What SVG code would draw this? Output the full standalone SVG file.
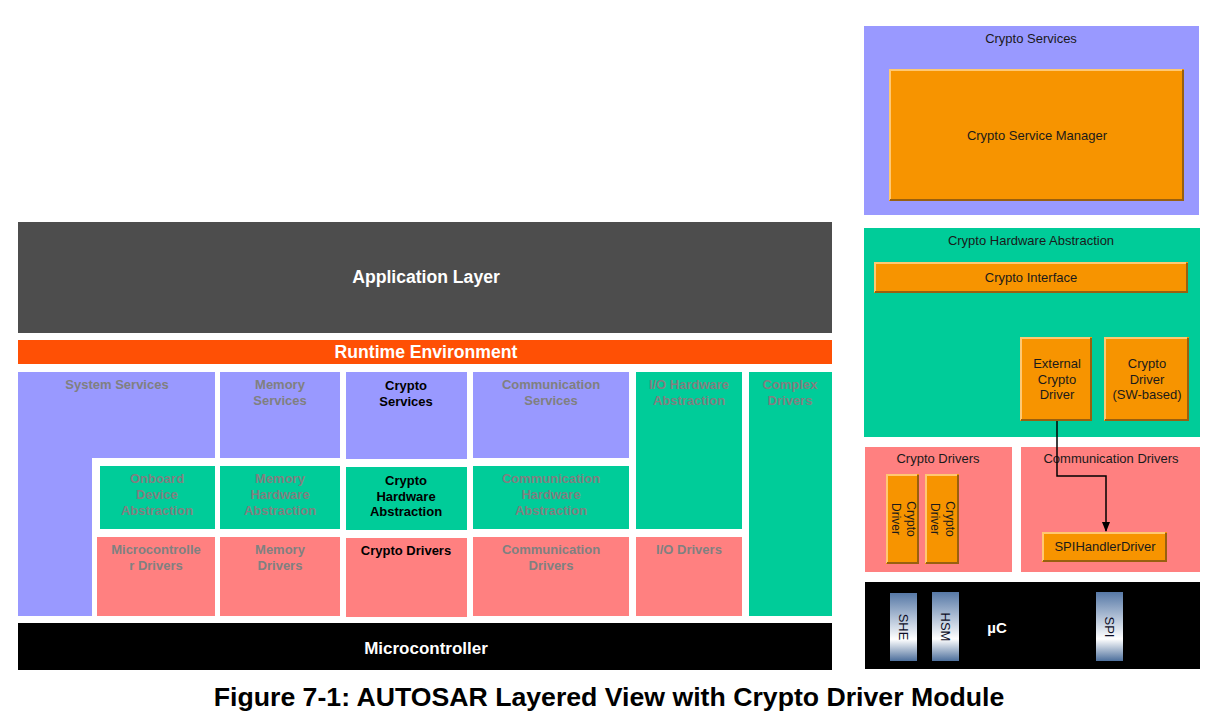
<svg xmlns="http://www.w3.org/2000/svg" width="1219" height="728" viewBox="0 0 1219 728">
<style>
.lav{fill:#9999ff}
.grn{fill:#00cc99}
.pnk{fill:#ff8080}
.blk{fill:#000}
.gt{font-family:"Liberation Sans",Arial,sans-serif;font-size:13px;font-weight:bold;fill:#808080;text-anchor:middle}
.bt{font-family:"Liberation Sans",Arial,sans-serif;font-size:13px;font-weight:bold;fill:#000;text-anchor:middle}
.wt{font-family:"Liberation Sans",Arial,sans-serif;font-weight:bold;fill:#fff;text-anchor:middle}
.nt{font-family:"Liberation Sans",Arial,sans-serif;font-size:13px;fill:#1a1a1a;text-anchor:middle}
.rt{font-family:"Liberation Sans",Arial,sans-serif;font-size:12px;fill:#1a1a1a;text-anchor:middle}
.ob{fill:#f79400}
.hl{fill:none;stroke:#ffc872;stroke-width:2}
.sh{fill:none;stroke:#99600f;stroke-width:2}
.chip{fill:url(#chipg)}
.ct{font-family:"Liberation Sans",Arial,sans-serif;font-size:13px;fill:#0d0d26;text-anchor:middle}
.conn{fill:none;stroke:#000;stroke-width:1.5}
</style>
<defs>
<linearGradient id="chipg" x1="0" y1="0" x2="0" y2="1">
<stop offset="0" stop-color="#5678a6"/>
<stop offset="0.68" stop-color="#ffffff"/>
<stop offset="1" stop-color="#4d6f9c"/>
</linearGradient>
<marker id="arr" markerWidth="10" markerHeight="10" refX="9" refY="5" orient="auto" markerUnits="userSpaceOnUse">
<path d="M0,1 L10,5 L0,9 Z" fill="#000"/>
</marker>
</defs>
<rect width="1219" height="728" fill="#fff"/>

<g id="application-layer">
<rect x="18" y="222" width="814" height="111" fill="#4d4d4d"/>
<text class="wt" x="426" y="283" font-size="17.6">Application Layer</text>
</g>
<g id="runtime-environment">
<rect x="18" y="340" width="814" height="24" fill="#ff5005"/>
<text class="wt" x="426" y="358" font-size="17.6">Runtime Environment</text>
</g>

<g id="system-services">
<path class="lav" d="M18 372 H215 V458 H92 V616 H18 Z"/>
<text class="gt" x="117" y="389">System Services</text>
</g>
<g id="memory-services">
<rect class="lav" x="220" y="372" width="120" height="86"/>
<text class="gt" x="280" y="389">Memory</text>
<text class="gt" x="280" y="405">Services</text>
</g>
<g id="crypto-services">
<rect class="lav" x="346" y="372" width="121" height="87"/>
<text class="bt" x="406" y="390">Crypto</text>
<text class="bt" x="406" y="406">Services</text>
</g>
<g id="communication-services">
<rect class="lav" x="473" y="372" width="156" height="86"/>
<text class="gt" x="551" y="389">Communication</text>
<text class="gt" x="551" y="405">Services</text>
</g>
<g id="io-hardware-abstraction">
<rect class="grn" x="636" y="372" width="106" height="157"/>
<text class="gt" x="689" y="389">I/O Hardware</text>
<text class="gt" x="689" y="405">Abstraction</text>
</g>
<g id="complex-drivers">
<rect class="grn" x="749" y="372" width="83" height="244"/>
<text class="gt" x="790" y="389">Complex</text>
<text class="gt" x="790" y="405">Drivers</text>
</g>
<g id="onboard-device-abstraction">
<rect class="grn" x="100" y="466" width="115" height="63"/>
<text class="gt" x="157" y="483">Onboard</text>
<text class="gt" x="157" y="499">Device</text>
<text class="gt" x="157" y="515">Abstraction</text>
</g>
<g id="memory-hardware-abstraction">
<rect class="grn" x="220" y="466" width="120" height="63"/>
<text class="gt" x="280" y="483">Memory</text>
<text class="gt" x="280" y="499">Hardware</text>
<text class="gt" x="280" y="515">Abstraction</text>
</g>
<g id="crypto-hardware-abstraction">
<rect class="grn" x="346" y="467" width="121" height="63"/>
<text class="bt" x="406" y="485">Crypto</text>
<text class="bt" x="406" y="501">Hardware</text>
<text class="bt" x="406" y="516">Abstraction</text>
</g>
<g id="communication-hardware-abstraction">
<rect class="grn" x="473" y="466" width="156" height="63"/>
<text class="gt" x="551" y="483">Communication</text>
<text class="gt" x="551" y="499">Hardware</text>
<text class="gt" x="551" y="515">Abstraction</text>
</g>
<g id="microcontroller-drivers">
<rect class="pnk" x="97" y="537" width="118" height="79"/>
<text class="gt" x="156" y="554">Microcontrolle</text>
<text class="gt" x="156" y="570">r Drivers</text>
</g>
<g id="memory-drivers">
<rect class="pnk" x="220" y="537" width="120" height="79"/>
<text class="gt" x="280" y="554">Memory</text>
<text class="gt" x="280" y="570">Drivers</text>
</g>
<g id="crypto-drivers">
<rect class="pnk" x="346" y="538" width="121" height="79"/>
<text class="bt" x="406" y="555">Crypto Drivers</text>
</g>
<g id="communication-drivers">
<rect class="pnk" x="473" y="537" width="156" height="79"/>
<text class="gt" x="551" y="554">Communication</text>
<text class="gt" x="551" y="570">Drivers</text>
</g>
<g id="io-drivers">
<rect class="pnk" x="636" y="537" width="106" height="79"/>
<text class="gt" x="689" y="554">I/O Drivers</text>
</g>
<g id="microcontroller">
<rect class="blk" x="18" y="623" width="814" height="47"/>
<text class="wt" x="426" y="654" font-size="17">Microcontroller</text>
</g>

<g id="r-crypto-services">
<rect class="lav" x="864" y="26" width="335" height="189"/>
<text class="nt" x="1031" y="43">Crypto Services</text>
</g>
<g id="crypto-service-manager">
<rect class="ob" x="889" y="69" width="295" height="132"/>
<path class="hl" d="M890 200 V70 H1182"/>
<path class="sh" d="M1183 70 V200 H890"/>
<text class="nt" x="1037" y="140">Crypto Service Manager</text>
</g>

<g id="r-crypto-hardware-abstraction">
<rect class="grn" x="864" y="228" width="336" height="209"/>
<text class="nt" x="1031" y="245">Crypto Hardware Abstraction</text>
</g>
<g id="crypto-interface">
<rect class="ob" x="874" y="262" width="314" height="31"/>
<path class="hl" d="M875 292 V263 H1186"/>
<path class="sh" d="M1187 263 V292 H875"/>
<text class="nt" x="1031" y="282">Crypto Interface</text>
</g>
<g id="external-crypto-driver">
<rect class="ob" x="1020" y="337" width="72" height="84"/>
<path class="hl" d="M1021 420 V338 H1090"/>
<path class="sh" d="M1091 338 V420 H1021"/>
<text class="nt" x="1057" y="368">External</text>
<text class="nt" x="1057" y="384">Crypto</text>
<text class="nt" x="1057" y="399">Driver</text>
</g>
<g id="crypto-driver-sw">
<rect class="ob" x="1104" y="337" width="85" height="84"/>
<path class="hl" d="M1105 420 V338 H1187"/>
<path class="sh" d="M1188 338 V420 H1105"/>
<text class="nt" x="1147" y="368">Crypto</text>
<text class="nt" x="1147" y="384">Driver</text>
<text class="nt" x="1147" y="399">(SW-based)</text>
</g>

<g id="r-crypto-drivers">
<rect class="pnk" x="865" y="447" width="147" height="125"/>
<text class="nt" x="938" y="463">Crypto Drivers</text>
</g>
<g id="crypto-driver-1">
<rect class="ob" x="886" y="474" width="33" height="90"/>
<path class="hl" d="M887 563 V475 H917"/>
<path class="sh" d="M918 475 V563 H887"/>
<g transform="translate(902.5,519) rotate(90)">
<text class="rt" x="0" y="-4">Crypto</text>
<text class="rt" x="0" y="11">Driver</text>
</g>
</g>
<g id="crypto-driver-2">
<rect class="ob" x="925" y="474" width="34" height="90"/>
<path class="hl" d="M926 563 V475 H957"/>
<path class="sh" d="M958 475 V563 H926"/>
<g transform="translate(942,519) rotate(90)">
<text class="rt" x="0" y="-4">Crypto</text>
<text class="rt" x="0" y="11">Driver</text>
</g>
</g>
<g id="r-communication-drivers">
<rect class="pnk" x="1021" y="447" width="179" height="125"/>
<text class="nt" x="1111" y="463">Communication Drivers</text>
</g>
<g id="spi-handler-driver">
<rect class="ob" x="1042" y="532" width="125" height="30"/>
<path class="hl" d="M1043 561 V533 H1165"/>
<path class="sh" d="M1166 533 V561 H1043"/>
<text class="nt" x="1105" y="551" font-size="12.3">SPIHandlerDriver</text>
</g>

<g id="uc">
<rect class="blk" x="865" y="582" width="335" height="87"/>
<text class="wt" x="997" y="633" font-size="15">µC</text>
</g>
<g id="she">
<rect class="chip" x="890" y="593" width="27" height="68"/>
<text class="ct" transform="translate(903.5,627) rotate(90)" x="0" y="4.5">SHE</text>
</g>
<g id="hsm">
<rect class="chip" x="932" y="592" width="27" height="69"/>
<text class="ct" transform="translate(945.5,627) rotate(90)" x="0" y="4.5">HSM</text>
</g>
<g id="spi">
<rect class="chip" x="1096" y="592" width="27" height="69"/>
<text class="ct" transform="translate(1109.5,627) rotate(90)" x="0" y="4.5">SPI</text>
</g>

<g id="connectors">
<path class="conn" d="M1057 421 V476 H1106 V531" marker-end="url(#arr)"/>
</g>

<g id="caption">
<text x="609" y="706" font-family="'Liberation Sans',Arial,sans-serif" font-size="26.67" font-weight="bold" fill="#000" text-anchor="middle">Figure 7-1: AUTOSAR Layered View with Crypto Driver Module</text>
</g>
</svg>
